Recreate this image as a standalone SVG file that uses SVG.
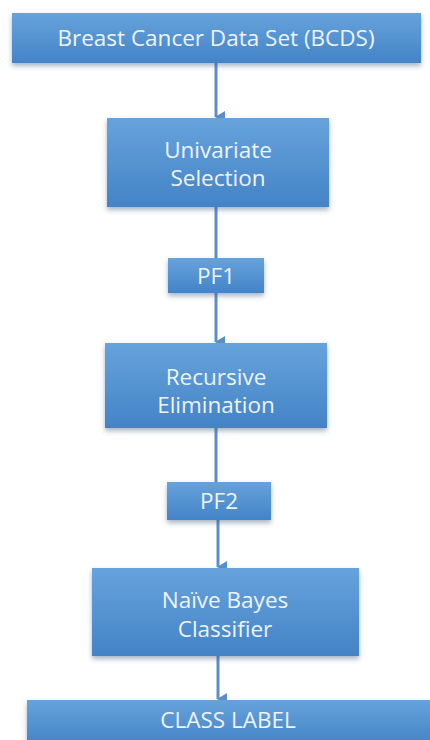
<svg xmlns="http://www.w3.org/2000/svg" width="430" height="740" viewBox="0 0 430 740">
<defs>
<linearGradient id="g" x1="0" y1="0" x2="0" y2="1">
<stop offset="0" stop-color="#66a3dc"/>
<stop offset="1" stop-color="#4483c6"/>
</linearGradient>
<filter id="sh" x="-10%" y="-10%" width="120%" height="140%">
<feDropShadow dx="0" dy="3" stdDeviation="2.5" flood-color="#3a5a80" flood-opacity="0.45"/>
</filter>
<marker id="ah" markerWidth="12" markerHeight="12" refX="6" refY="9" orient="auto" markerUnits="userSpaceOnUse" viewBox="0 0 12 12">
<path d="M0,0 L12,0 L6,10 Z" fill="#5b8fc9"/>
</marker>
</defs>
<style>
.box{fill:url(#g);filter:url(#sh);}
.t{font-family:"Open Sans","Noto Sans",sans-serif;fill:#eef4fb;text-anchor:middle;font-size:22.5px;}
.c{stroke:#5b8fc9;stroke-width:3;fill:none;}
</style>
<rect width="430" height="740" fill="#ffffff"/>
<g id="connectors">
<line class="c" x1="216" y1="63" x2="216" y2="117" marker-end="url(#ah)"/>
<line class="c" x1="216" y1="207" x2="216" y2="258"/>
<line class="c" x1="216" y1="293" x2="216" y2="342" marker-end="url(#ah)"/>
<line class="c" x1="216" y1="428" x2="216" y2="482"/>
<line class="c" x1="218" y1="520" x2="218" y2="567" marker-end="url(#ah)"/>
<line class="c" x1="218" y1="656" x2="218" y2="699" marker-end="url(#ah)"/>
</g>
<g id="bcds">
<rect class="box" x="12" y="13" width="409" height="50"/>
<text class="t" x="216" y="46">Breast Cancer Data Set (BCDS)</text>
</g>
<g id="univariate">
<rect class="box" x="107" y="118" width="222" height="89"/>
<text class="t" x="218" y="158">Univariate</text>
<text class="t" x="218" y="186">Selection</text>
</g>
<g id="pf1">
<rect class="box" x="168" y="258" width="96" height="35"/>
<text class="t" x="216" y="284">PF1</text>
</g>
<g id="recursive">
<rect class="box" x="105" y="343" width="222" height="85"/>
<text class="t" x="216" y="385">Recursive</text>
<text class="t" x="216" y="413">Elimination</text>
</g>
<g id="pf2">
<rect class="box" x="167" y="482" width="104" height="38"/>
<text class="t" x="219" y="509">PF2</text>
</g>
<g id="naive">
<rect class="box" x="92" y="568" width="267" height="88"/>
<text class="t" x="225" y="608">Naïve Bayes</text>
<text class="t" x="225" y="637">Classifier</text>
</g>
<g id="classlabel">
<rect class="box" x="27" y="700" width="410" height="45"/>
<text class="t" x="228" y="728">CLASS LABEL</text>
</g>
</svg>
